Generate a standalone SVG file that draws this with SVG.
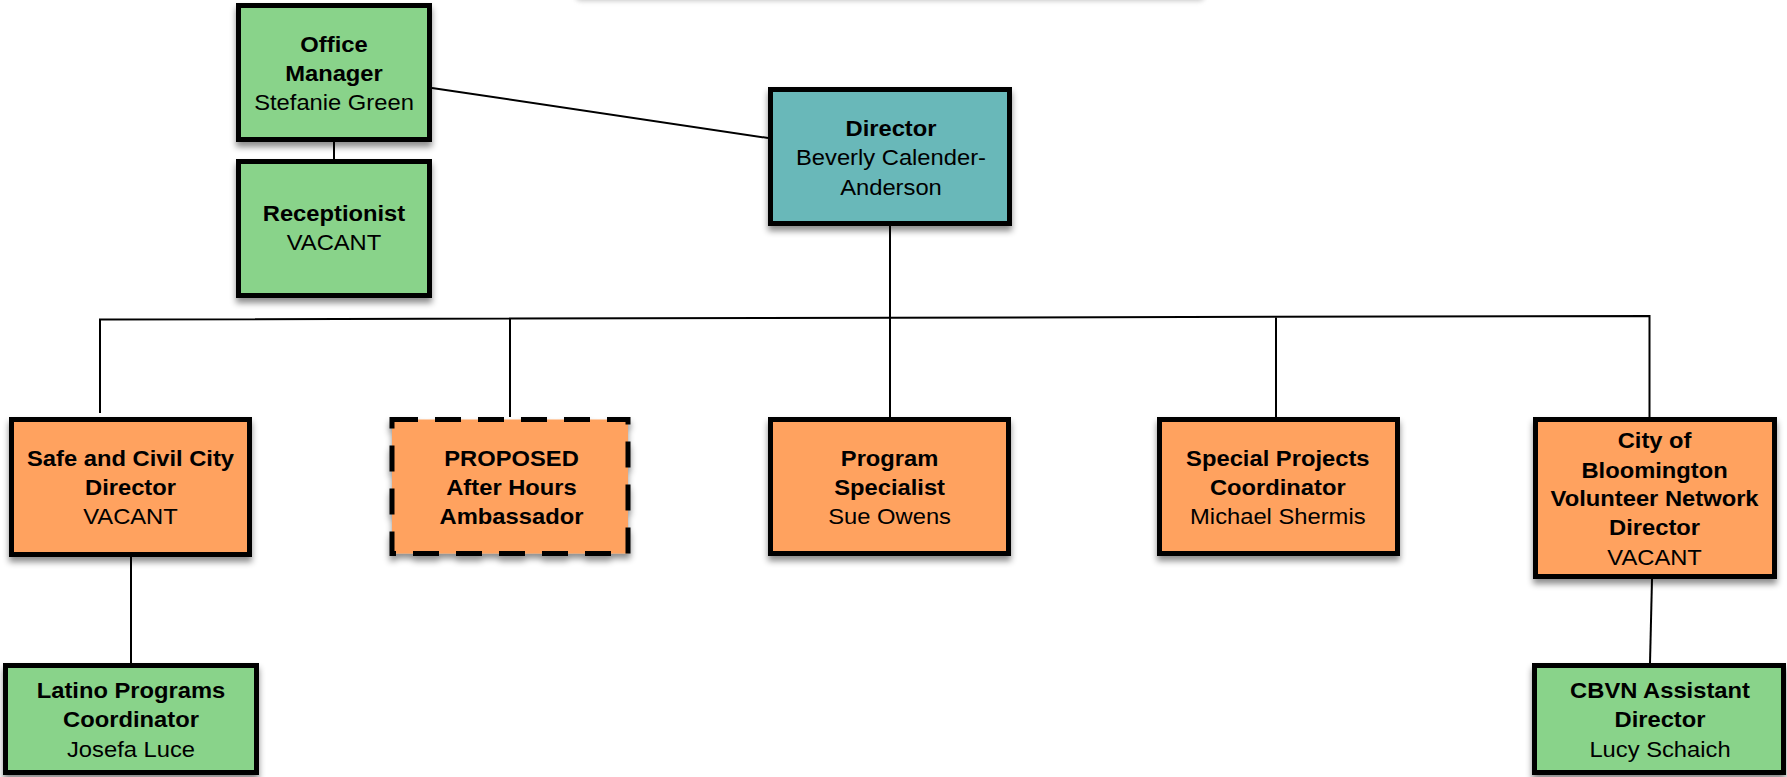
<svg xmlns="http://www.w3.org/2000/svg" width="1787" height="777" viewBox="0 0 1787 777">
  <defs>
    <filter id="shadow" x="-10%" y="-10%" width="120%" height="130%">
      <feDropShadow dx="0" dy="5" stdDeviation="3" flood-color="#000" flood-opacity="0.45"/>
    </filter>
    <filter id="soft" x="-10%" y="-200%" width="120%" height="500%">
      <feGaussianBlur stdDeviation="2.5"/>
    </filter>
  </defs>
  <style>
    .box { stroke: #000; stroke-width: 5; filter: url(#shadow); }
    .green { fill: #89D38A; }
    .teal { fill: #69B8B9; }
    .orange { fill: #FFA25E; }
    .dashed { stroke-dasharray: 26 17; }
    .link { stroke: #000; stroke-width: 2; fill: none; }
    text { font-family: "Liberation Sans", Arial, sans-serif; font-size: 22px; text-anchor: middle; fill: #000; }
    .b { font-weight: bold; }
  </style>

  <rect width="1787" height="777" fill="#fff"/>
  <!-- faint shadow of an element just above the top edge -->
  <rect x="575" y="-14" width="630" height="15" rx="6" fill="#9a9a9a" opacity="0.55" filter="url(#soft)"/>

  <g id="connectors">
    <line class="link" x1="432" y1="88" x2="768" y2="138" stroke-width="2.5"/>
    <line class="link" x1="334" y1="142" x2="334" y2="159"/>
    <line class="link" x1="890" y1="226" x2="890" y2="417"/>
    <polyline class="link" points="100,413 100,319.5 1649.5,316 1649.5,417"/>
    <line class="link" x1="510" y1="319" x2="510" y2="417"/>
    <line class="link" x1="1276" y1="317.5" x2="1276" y2="417"/>
    <line class="link" x1="131" y1="557" x2="131" y2="663"/>
    <line class="link" x1="1652" y1="579" x2="1650" y2="663"/>
  </g>

  <g id="office-manager">
    <rect class="box green" x="238.5" y="5.5" width="191" height="134"/>
    <text transform="translate(334 0) scale(1.08 1)"><tspan class="b" x="0" y="52">Office</tspan><tspan class="b" x="0" y="81.5">Manager</tspan><tspan x="0" y="110">Stefanie Green</tspan></text>
  </g>

  <g id="receptionist">
    <rect class="box green" x="238.5" y="161.5" width="191" height="134"/>
    <text transform="translate(334 0) scale(1.08 1)"><tspan class="b" x="0" y="221.5">Receptionist</tspan><tspan x="0" y="250.5">VACANT</tspan></text>
  </g>

  <g id="director">
    <rect class="box teal" x="770.5" y="89.5" width="239" height="134"/>
    <text transform="translate(891 0) scale(1.08 1)"><tspan class="b" x="0" y="136.5">Director</tspan><tspan x="0" y="165.5">Beverly Calender-</tspan><tspan x="0" y="195">Anderson</tspan></text>
  </g>

  <g id="safe-civil-city">
    <rect class="box orange" x="11.5" y="419.5" width="238" height="135"/>
    <text transform="translate(130.5 0) scale(1.08 1)"><tspan class="b" x="0" y="466.5">Safe and Civil City</tspan><tspan class="b" x="0" y="495.5">Director</tspan><tspan x="0" y="524.3">VACANT</tspan></text>
  </g>

  <g id="after-hours-ambassador">
    <rect class="box orange dashed" x="392" y="419.5" width="236" height="134"/>
    <text transform="translate(511.5 0) scale(1.08 1)"><tspan class="b" x="0" y="465.7">PROPOSED</tspan><tspan class="b" x="0" y="495">After Hours</tspan><tspan class="b" x="0" y="524">Ambassador</tspan></text>
  </g>

  <g id="program-specialist">
    <rect class="box orange" x="770.5" y="419.5" width="238" height="134"/>
    <text transform="translate(889.6 0) scale(1.08 1)"><tspan class="b" x="0" y="465.7">Program</tspan><tspan class="b" x="0" y="495">Specialist</tspan><tspan x="0" y="524.3">Sue Owens</tspan></text>
  </g>

  <g id="special-projects">
    <rect class="box orange" x="1159.5" y="419.5" width="238" height="134"/>
    <text transform="translate(1277.8 0) scale(1.08 1)"><tspan class="b" x="0" y="465.7">Special Projects</tspan><tspan class="b" x="0" y="495">Coordinator</tspan><tspan x="0" y="524.3">Michael Shermis</tspan></text>
  </g>

  <g id="volunteer-network">
    <rect class="box orange" x="1535.5" y="419.5" width="239" height="157"/>
    <text transform="translate(1654.6 0) scale(1.08 1)"><tspan class="b" x="0" y="448.3">City of</tspan><tspan class="b" x="0" y="477.7">Bloomington</tspan><tspan class="b" x="0" y="506">Volunteer Network</tspan><tspan class="b" x="0" y="535">Director</tspan><tspan x="0" y="565">VACANT</tspan></text>
  </g>

  <g id="latino-programs">
    <rect class="box green" x="5.5" y="665.5" width="251" height="107"/>
    <text transform="translate(131 0) scale(1.08 1)"><tspan class="b" x="0" y="698.3">Latino Programs</tspan><tspan class="b" x="0" y="727.3">Coordinator</tspan><tspan x="0" y="756.7">Josefa Luce</tspan></text>
  </g>

  <g id="cbvn-assistant">
    <rect class="box green" x="1534.5" y="665.5" width="249" height="107"/>
    <text transform="translate(1660 0) scale(1.08 1)"><tspan class="b" x="0" y="698.3">CBVN Assistant</tspan><tspan class="b" x="0" y="727.3">Director</tspan><tspan x="0" y="756.7">Lucy Schaich</tspan></text>
  </g>
</svg>
